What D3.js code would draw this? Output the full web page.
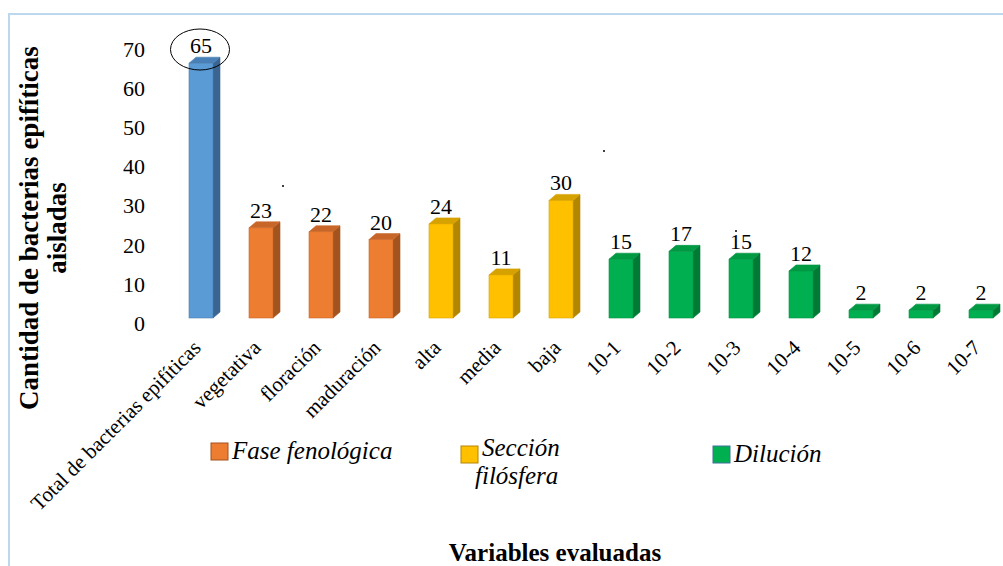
<!DOCTYPE html>
<html>
<head>
<meta charset="utf-8">
<script src="https://cdn.jsdelivr.net/npm/d3@7"></script>
<style>
  body { margin: 0; background: #fff; }
  svg text { font-family: "Times New Roman", "Liberation Serif", serif; }
</style>
</head>
<body>
<div class="chart-container"></div>
<script>
// data
const categories = ["Total de bacterias epifíticas", "vegetativa", "floración", "maduración",
  "alta", "media", "baja", "10-1", "10-2", "10-3", "10-4", "10-5", "10-6", "10-7"];
const values = [65, 23, 22, 20, 24, 11, 30, 15, 17, 15, 12, 2, 2, 2];
const groups = ["total", "fase", "fase", "fase", "seccion", "seccion", "seccion",
  "dilucion", "dilucion", "dilucion", "dilucion", "dilucion", "dilucion", "dilucion"];
const yTicks = [0, 10, 20, 30, 40, 50, 60, 70];
const legendKeys = ["fase", "seccion", "dilucion"];
const legendLabels = [["Fase fenológica"], ["Sección", "filósfera"], ["Dilución"]];

const w = 1003;
const h = 566;
const serif = "'Liberation Serif', 'Times New Roman', serif";

// front / top / side colours for the fake 3D columns
const palette = {
  total: { front: "#5B9BD5", top: "#4A80B8", side: "#3A6491", edge: "#4A7FB0" },
  fase: { front: "#ED7D31", top: "#C8662A", side: "#A3531E", edge: "#C9682A" },
  seccion: { front: "#FFC000", top: "#D6A200", side: "#B38600", edge: "#D9A300" },
  dilucion: { front: "#00B050", top: "#009A43", side: "#007A35", edge: "#009444" }
};

const svg = d3.select(".chart-container")
  .append("svg")
  .attr("width", w)
  .attr("height", h);

// light blue frame of the chart area
svg.append("path")
  .attr("d", `M9,${h} L9,14 L${w},14`)
  .attr("fill", "none")
  .attr("stroke", "#BDD7EE")
  .attr("stroke-width", 2);

const x = d3.scaleBand()
  .domain(categories)
  .range([171, 171 + categories.length * 60])
  .paddingInner(0.6)
  .paddingOuter(0.3);

const y = d3.scaleLinear()
  .domain([0, 70])
  .range([318, 318 - 70 * 3.92]);

const dx = 7; // depth of the column
const dy = 6;

// y axis labels (no line)
svg.append("g")
  .selectAll("text")
  .data(yTicks)
  .join("text")
  .attr("x", 145)
  .attr("y", (d) => y(d) + 13)
  .attr("text-anchor", "end")
  .attr("font-family", serif)
  .attr("font-size", 22)
  .attr("fill", "#000")
  .text((d) => d);

// columns
const bars = svg.append("g")
  .selectAll("g")
  .data(categories)
  .join("g");

bars.each(function (c, i) {
  const g = d3.select(this);
  const col = palette[groups[i]];
  const x0 = x(c);
  const x1 = x0 + x.bandwidth();
  const yt = y(values[i]);
  const yb = y(0);

  // side face
  g.append("path")
    .attr("d", `M${x1},${yb} L${x1 + dx},${yb - dy} L${x1 + dx},${yt - dy} L${x1},${yt} Z`)
    .attr("fill", col.side)
    .attr("stroke", col.side)
    .attr("stroke-width", 0.6);

  // top face
  g.append("path")
    .attr("d", `M${x0},${yt} L${x0 + dx},${yt - dy} L${x1 + dx},${yt - dy} L${x1},${yt} Z`)
    .attr("fill", col.top)
    .attr("stroke", col.edge)
    .attr("stroke-width", 0.6);

  // front face
  g.append("rect")
    .attr("x", x0)
    .attr("y", yt)
    .attr("width", x.bandwidth())
    .attr("height", yb - yt)
    .attr("fill", col.front)
    .attr("stroke", col.edge)
    .attr("stroke-width", 0.6);

  // value label
  g.append("text")
    .attr("x", x0 + x.bandwidth() / 2)
    .attr("y", yt - dy - 4)
    .attr("text-anchor", "middle")
    .attr("font-family", serif)
    .attr("font-size", 22)
    .attr("fill", "#000")
    .text(values[i]);
});

// circle drawn around the total
svg.append("ellipse")
  .attr("cx", x(categories[0]) + x.bandwidth() / 2 - 1)
  .attr("cy", 49.5)
  .attr("rx", 29.5)
  .attr("ry", 20.5)
  .attr("fill", "none")
  .attr("stroke", "#000")
  .attr("stroke-width", 1);

// little stray specks that are in the original
svg.append("g")
  .selectAll("circle")
  .data([[283, 186], [604, 151], [736, 231]])
  .join("circle")
  .attr("cx", (d) => d[0])
  .attr("cy", (d) => d[1])
  .attr("r", 1)
  .attr("fill", "#000");

// x category labels, rotated
svg.append("g")
  .selectAll("text")
  .data(categories)
  .join("text")
  .attr("transform", (d) => `translate(${x(d) + x.bandwidth() / 2 + 1},349) rotate(-45)`)
  .attr("text-anchor", "end")
  .attr("font-family", serif)
  .attr("font-size", 21)
  .attr("fill", "#000")
  .text((d) => d);

// legend
const legendPos = [[211, 443], [461, 446], [713, 446]];
const legend = svg.append("g")
  .selectAll("g")
  .data(legendKeys)
  .join("g")
  .attr("transform", (d, i) => `translate(${legendPos[i][0]},${legendPos[i][1]})`);

legend.append("rect")
  .attr("width", 17)
  .attr("height", 17)
  .attr("fill", (d) => palette[d].front)
  .attr("stroke", (d, i) => (i === 2 ? "#41719C" : palette[d].side))
  .attr("stroke-width", 1);

legend.each(function (d, i) {
  const t = d3.select(this).append("text")
    .attr("font-family", serif)
    .attr("font-size", 25)
    .attr("font-style", "italic")
    .attr("fill", "#000");
  legendLabels[i].forEach((line, j) => {
    t.append("tspan")
      .attr("x", j === 0 ? 21 : 14)
      .attr("y", (legendLabels[i].length > 1 ? 10 : 16) + j * 28)
      .text(line);
  });
});

// axis titles
svg.append("text")
  .attr("transform", "translate(38,228) rotate(-90)")
  .attr("text-anchor", "middle")
  .attr("font-family", serif)
  .attr("font-size", 27)
  .attr("font-weight", "bold")
  .selectAll("tspan")
  .data(["Cantidad de bacterias epifíticas", "aisladas"])
  .join("tspan")
  .attr("x", 0)
  .attr("dy", (d, i) => (i === 0 ? 0 : 28))
  .text((d) => d);

svg.append("text")
  .attr("x", 555)
  .attr("y", 561)
  .attr("text-anchor", "middle")
  .attr("font-family", serif)
  .attr("font-size", 25)
  .attr("font-weight", "bold")
  .text("Variables evaluadas");
</script>
</body>
</html>
